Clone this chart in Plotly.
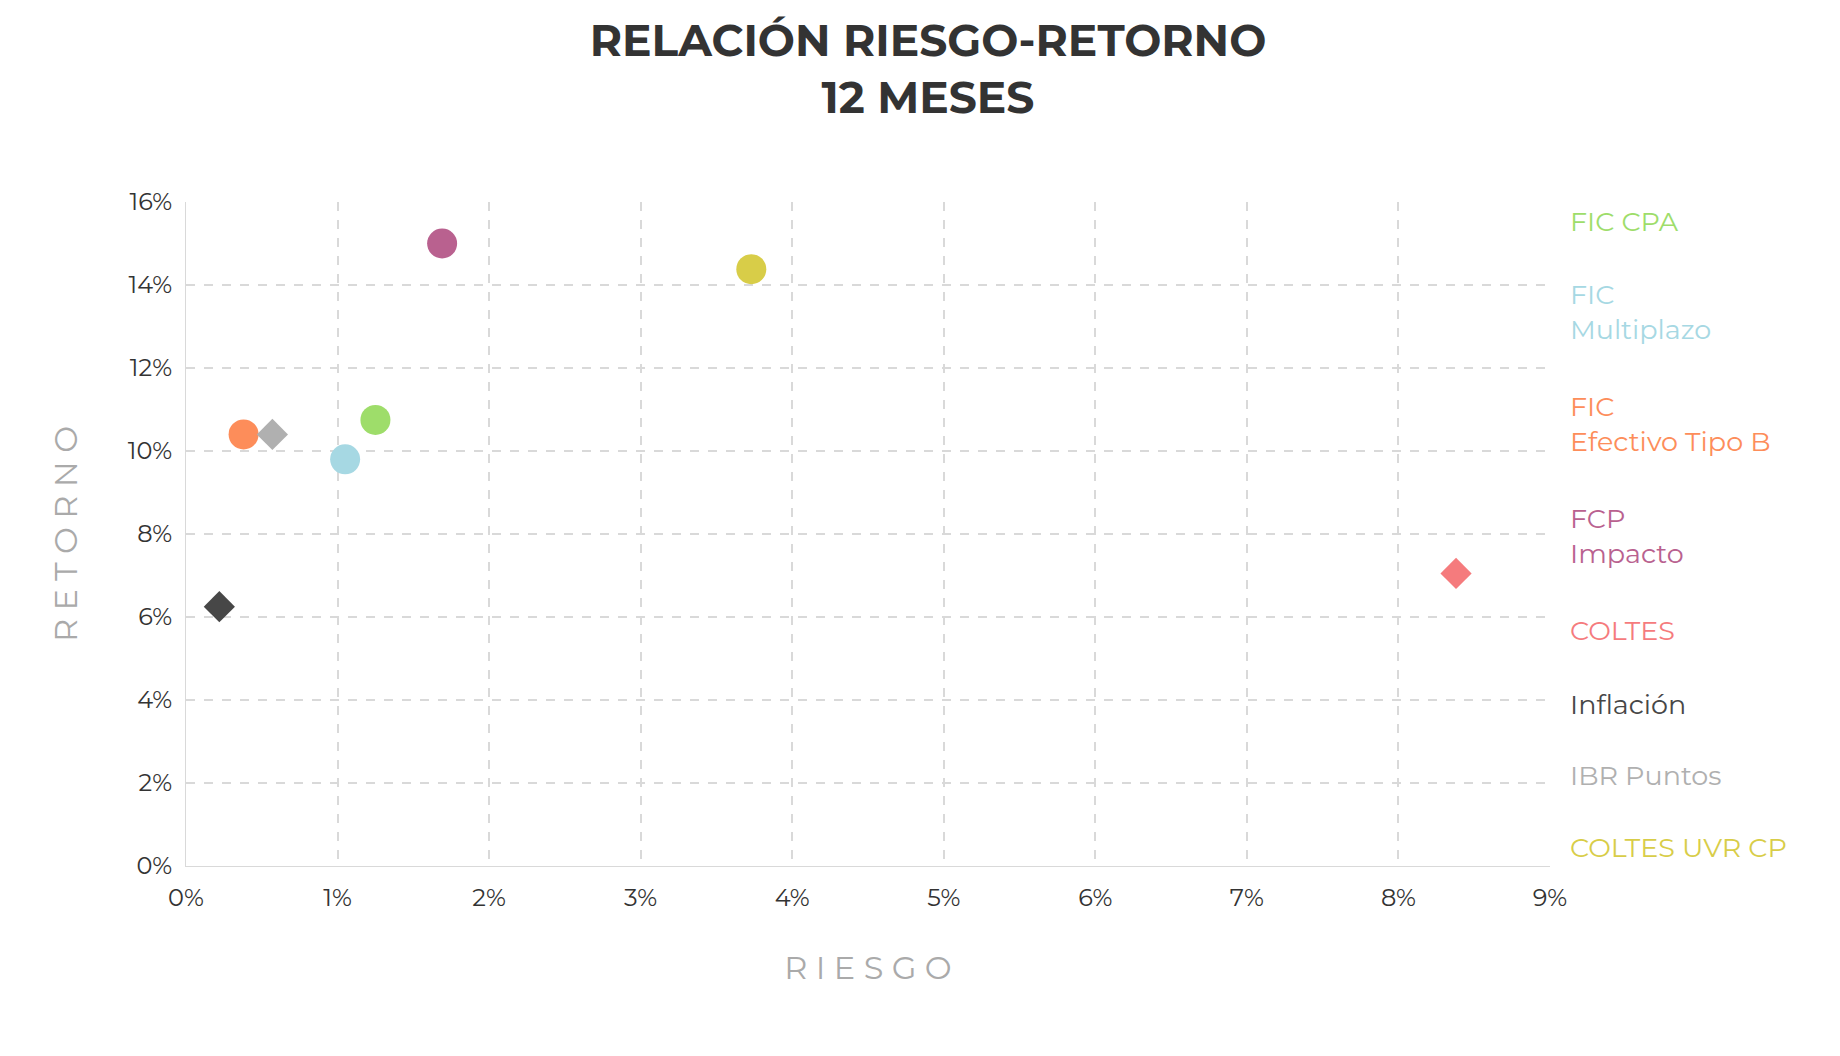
import plotly.graph_objects as go

names = ["FIC CPA", "FIC Multiplazo", "FIC Efectivo Tipo B", "FCP Impacto", "COLTES", "Inflación", "IBR Puntos", "COLTES UVR CP"]
labels = ["FIC CPA", "FIC<br>Multiplazo", "FIC<br>Efectivo Tipo B", "FCP<br>Impacto", "COLTES", "Inflación", "IBR Puntos", "COLTES UVR CP"]
riesgo = [1.25, 1.05, 0.38, 1.69, 8.38, 0.22, 0.57, 3.73]
retorno = [10.75, 9.8, 10.4, 15.0, 7.05, 6.25, 10.4, 14.38]
colors = ["#9edd6a", "#a6d8e3", "#fd8d5a", "#b9618f", "#f57b7d", "#474747", "#b0b0b0", "#d8cd48"]
symbols = ["circle", "circle", "circle", "circle", "diamond", "diamond", "diamond", "circle"]
legend_y = [0.970, 0.834, 0.666, 0.497, 0.354, 0.243, 0.136, 0.028]

FONT = "Montserrat, Lato, Open Sans, sans-serif"
fig = go.Figure()
for n, x, y, c, s in zip(names, riesgo, retorno, colors, symbols):
    fig.add_trace(go.Scatter(x=[x], y=[y], mode="markers", name=n,
                             marker=dict(color=c, symbol=s, size=30 if s == "circle" else 24)))
for lab, c, ly in zip(labels, colors, legend_y):
    fig.add_annotation(x=1.013, y=ly, xref="paper", yref="paper", text=lab, showarrow=False,
                       xanchor="left", yanchor="middle", align="left",
                       font=dict(size=27, color=c, family=FONT))
fig.update_layout(
    width=1840, height=1056, plot_bgcolor="white", paper_bgcolor="white", showlegend=False,
    margin=dict(l=178, r=298, t=194, b=198),
    font=dict(family=FONT, color="#333"),
    title=dict(text="<b>RELACIÓN RIESGO-RETORNO<br>12 MESES</b>", x=0.5, xanchor="center",
               y=0.955, yanchor="top", font=dict(size=44, color="#333", family=FONT)),
    xaxis=dict(range=[0, 9], dtick=1, ticksuffix="%", showgrid=True, gridcolor="#d9d9d9",
               griddash="dash", gridwidth=1.5, showline=True, linecolor="#d9d9d9", zeroline=False,
               ticks="outside", tickcolor="white", ticklen=10,
               tickfont=dict(size=24, color="#333"),
               title=dict(text="R I E S G O", font=dict(size=32, color="#aaa"), standoff=45)),
    yaxis=dict(range=[0, 16], dtick=2, ticksuffix="%", showgrid=True, gridcolor="#d9d9d9",
               griddash="dash", gridwidth=1.5, showline=True, linecolor="#d9d9d9", zeroline=False,
               ticks="outside", tickcolor="white", ticklen=8,
               tickfont=dict(size=24, color="#333"),
               title=dict(text="R E T O R N O", font=dict(size=32, color="#aaa"), standoff=40)),
)
fig.write_html("out.html")
